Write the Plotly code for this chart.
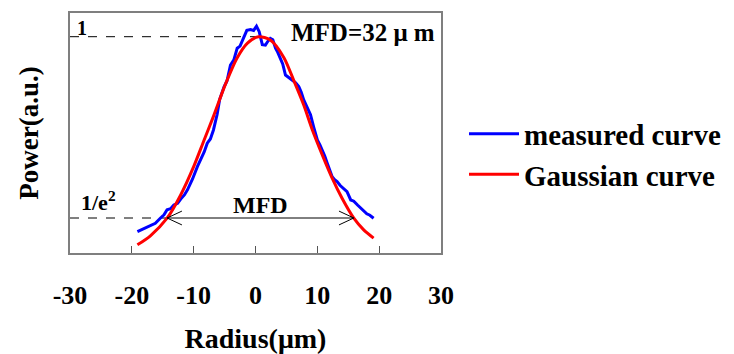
import plotly.graph_objects as go

# ---- data ----
meas_x = [-19.1, -18.3, -17.5, -16.8, -16.2, -15.4, -14.8, -14.3, -13.7, -13.2,
          -12.6, -12.1, -11.5, -11.0, -10.2, -9.4, -8.9, -8.3, -7.8, -7.3,
          -6.8, -6.2, -5.8, -5.1, -4.6, -4.05, -3.5, -2.96, -2.5, -1.9,
          -1.4, -0.8, -0.3, 0.16, 0.6, 1.1, 1.6, 2.0, 2.4, 2.8,
          3.24, 3.6, 4.05, 4.4, 4.85, 5.4, 5.94, 6.5, 7.0, 7.4,
          7.8, 8.3, 8.9, 9.4, 10.0, 10.4, 10.8, 11.2, 11.6, 12.0,
          12.4, 12.8, 13.2, 13.7, 14.2, 14.8, 15.4, 15.9, 16.5, 17.0,
          17.5, 18.0, 18.5, 19.1]
meas_y = [0.070, 0.082, 0.094, 0.104, 0.110, 0.134, 0.150, 0.174, 0.180, 0.197,
          0.205, 0.225, 0.245, 0.269, 0.320, 0.380, 0.412, 0.450, 0.492, 0.512,
          0.555, 0.630, 0.700, 0.760, 0.790, 0.865, 0.889, 0.945, 0.955, 1.000,
          1.030, 1.034, 1.030, 1.050, 1.024, 0.962, 0.960, 0.978, 0.992, 0.985,
          0.945, 0.925, 0.897, 0.870, 0.817, 0.806, 0.794, 0.780, 0.762, 0.735,
          0.698, 0.665, 0.627, 0.570, 0.507, 0.485, 0.460, 0.430, 0.396, 0.362,
          0.332, 0.318, 0.309, 0.290, 0.278, 0.261, 0.221, 0.215, 0.197, 0.182,
          0.165, 0.155, 0.148, 0.134]

gauss_x = [-19.1, -17.0, -14.3, -12.1, -10.0, -8.4, -6.8, -4.9, -3.0, -1.3,
           0.5, 2.4, 4.6, 6.2, 7.8, 9.2, 10.8, 12.4, 14.0, 15.9, 17.5, 19.1]
gauss_y = [0.007, 0.050, 0.134, 0.245, 0.380, 0.500, 0.620, 0.770, 0.897, 0.969,
           1.000, 0.984, 0.900, 0.790, 0.674, 0.555, 0.436, 0.325, 0.229, 0.134,
           0.078, 0.039]

x_ticks = [-30, -20, -10, 0, 10, 20, 30]
level_top = 1.0
level_e2 = 0.135
mfd_left = -14.3
mfd_right = 15.9
peak_x = 0.3

FONT = "Liberation Serif"

fig = go.Figure()
fig.add_trace(go.Scatter(x=meas_x, y=meas_y, mode="lines", name="measured curve",
                         line=dict(color="#0000ff", width=3)))
fig.add_trace(go.Scatter(x=gauss_x, y=gauss_y, mode="lines", name="Gaussian curve",
                         line=dict(color="#ff0000", width=3, shape="spline", smoothing=0.8)))

# dashed guide lines
fig.add_shape(type="line", x0=x_ticks[0], x1=peak_x, y0=level_top, y1=level_top,
              line=dict(color="black", width=1, dash="dash"), layer="below")
fig.add_shape(type="line", x0=x_ticks[0], x1=mfd_left, y0=level_e2, y1=level_e2,
              line=dict(color="black", width=1, dash="dash"), layer="below")
# MFD arrow
fig.add_shape(type="line", x0=mfd_left, x1=mfd_right, y0=level_e2, y1=level_e2,
              line=dict(color="black", width=1))
ax, ay = 2.4, 0.033
for tip, sgn in ((mfd_left, 1), (mfd_right, -1)):
    fig.add_shape(type="path",
                  path=f"M {tip + sgn*ax},{level_e2 + ay} L {tip},{level_e2} L {tip + sgn*ax},{level_e2 - ay}",
                  line=dict(color="black", width=1))

tf = dict(family=FONT, color="black", weight="bold")
fig.add_annotation(x=x_ticks[0], y=level_top, xref="x", yref="y", text="1",
                   showarrow=False, xanchor="left", yanchor="bottom", xshift=5, yshift=-4,
                   font=dict(size=20, **tf))
fig.add_annotation(x=x_ticks[0], y=level_e2, xref="x", yref="y", text="1/e<sup>2</sup>",
                   showarrow=False, xanchor="left", yanchor="bottom", xshift=9, yshift=1,
                   font=dict(size=22, **tf))
fig.add_annotation(x=(mfd_left + mfd_right) / 2, y=level_e2, xref="x", yref="y", text="MFD",
                   showarrow=False, xanchor="center", yanchor="bottom", yshift=-2,
                   font=dict(size=24, **tf))
fig.add_annotation(x=x_ticks[-1], y=1, xref="x", yref="paper", text="MFD=32 μ m",
                   showarrow=False, xanchor="right", yanchor="top", xshift=-4, yshift=-4,
                   font=dict(size=25, **tf))

fig.update_xaxes(range=[x_ticks[0], x_ticks[-1]], tickvals=x_ticks,
                 ticktext=[str(v) for v in x_ticks],
                 ticks="inside", ticklen=7, tickcolor="#555555", tickwidth=1,
                 showline=True, linecolor="#7f7f7f", linewidth=2, mirror=True,
                 showgrid=False, zeroline=False, automargin=False,
                 tickfont=dict(size=26, **tf),
                 ticklabelstandoff=18,
                 title=dict(text="Radius(μm)", font=dict(size=28, **tf), standoff=21))
fig.update_yaxes(range=[-0.032, 1.113], showticklabels=False, ticks="",
                 showline=True, linecolor="#7f7f7f", linewidth=2, mirror=True,
                 showgrid=False, zeroline=False, automargin=False,
                 title=dict(text="Power(a.u.)", font=dict(size=27, **tf), standoff=22))

fig.update_layout(
    width=734, height=354,
    margin=dict(l=70, r=293, t=13, b=101, autoexpand=False),
    paper_bgcolor="white", plot_bgcolor="white",
    showlegend=True,
    legend=dict(x=1.062, y=0.603, xanchor="left", yanchor="top",
                font=dict(size=29, **tf),
                itemwidth=50, bgcolor="rgba(0,0,0,0)", tracegroupgap=0),
)

fig.write_html("out.html", config={"displayModeBar": False},
               post_script="document.body.style.margin='0';")
